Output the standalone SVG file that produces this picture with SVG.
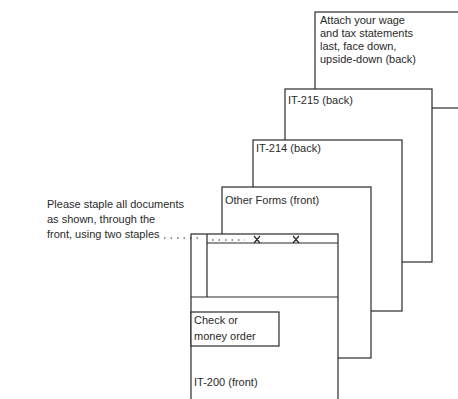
<svg xmlns="http://www.w3.org/2000/svg" width="458" height="399" viewBox="0 0 458 399">
<style>
.pg{fill:#fff;stroke:#2a2a2a;stroke-width:1.2}
.ln{stroke:#2a2a2a;stroke-width:1.2;fill:none}
.t{font-family:"Liberation Sans",Arial,sans-serif;font-size:11px;fill:#2a2a2a}
.dot{stroke:#2a2a2a;stroke-width:1.2;stroke-dasharray:1.5 5;fill:none}
</style>
<rect width="458" height="399" fill="#fff"/>
<g id="wage">
<rect class="pg" x="315" y="12" width="170" height="96"/>
<text class="t" x="320" y="24">Attach your wage</text>
<text class="t" x="320" y="37">and tax statements</text>
<text class="t" x="320" y="50">last, face down,</text>
<text class="t" x="320" y="63">upside-down (back)</text>
</g>
<g id="it215">
<rect class="pg" x="285" y="89" width="147" height="173"/>
<text class="t" x="288" y="104">IT-215 (back)</text>
</g>
<g id="it214">
<rect class="pg" x="253" y="140" width="149" height="171"/>
<text class="t" x="256" y="152">IT-214 (back)</text>
</g>
<g id="other">
<rect class="pg" x="222" y="187" width="149" height="171"/>
<text class="t" x="225" y="204">Other Forms (front)</text>
</g>
<g id="it200">
<rect class="pg" x="191" y="234" width="147" height="190"/>
<line class="ln" x1="207" y1="234" x2="207" y2="297"/>
<line class="ln" x1="207" y1="243" x2="338" y2="243" stroke-width="2"/>
<line class="ln" x1="191" y1="297" x2="338" y2="297"/>
<rect class="pg" x="191" y="312" width="88" height="34"/>
<text class="t" x="194" y="324">Check or</text>
<text class="t" x="194" y="340">money order</text>
<text class="t" x="194" y="386">IT-200 (front)</text>
<line class="dot" x1="212" y1="240" x2="245" y2="240"/>
<path class="ln" d="M254,236 L260,243 M260,236 L254,243 M293,236 L299,243 M299,236 L293,243"/>
</g>
<g id="note">
<text class="t" x="47" y="208">Please staple all documents</text>
<text class="t" x="47" y="223">as shown, through the</text>
<text class="t" x="47" y="238">front, using two staples</text>
</g>
<g id="connectors">
<line class="dot" x1="164" y1="238" x2="200" y2="238"/>
</g>
</svg>
